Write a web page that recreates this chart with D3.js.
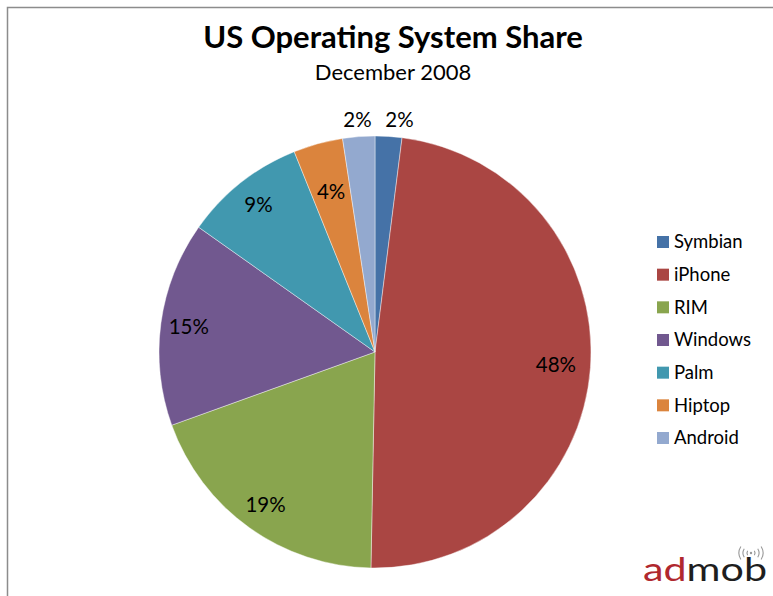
<!DOCTYPE html>
<html><head><meta charset="utf-8">
<script src="https://cdn.jsdelivr.net/npm/d3@7"></script>
<style>
body{margin:0;background:#fff;}
text{font-family:Lato,"Open Sans",sans-serif;}
</style></head>
<body><svg id="c" width="773" height="596"></svg>
<script>
const categories = ["Symbian","iPhone","RIM","Windows","Palm","Hiptop","Android"];
const shares = [2.0, 48.3, 19.2, 15.3, 9.1, 3.7, 2.4];
const colors = ["#4572A7","#AA4643","#89A54E","#71588F","#4198AF","#DB843D","#93A9CF"];
const title = "US Operating System Share";
const subtitle = "December 2008";

const svg = d3.select("#c");
// frame
svg.append("path").attr("d","M7.5,600 L7.5,7.5 L780,7.5").attr("fill","none").attr("stroke","#8c8c8c").attr("stroke-width",1.5);

svg.append("text").attr("x",393).attr("y",48).attr("text-anchor","middle")
  .attr("font-size",31).attr("font-weight","bold").attr("fill","#000").text(title);
svg.append("text").attr("x",393).attr("y",80).attr("text-anchor","middle")
  .attr("font-size",22).attr("fill","#000").text(subtitle);

const cx = 375, cy = 352, r = 216;
const data = categories.map((c,i)=>({name:c, value:shares[i], color:colors[i]}));
const pie = d3.pie().value(d=>d.value).sort(null);
const arcs = pie(data);
const arc = d3.arc().innerRadius(0).outerRadius(r);
const g = svg.append("g").attr("transform",`translate(${cx},${cy})`);
g.selectAll("path").data(arcs).join("path")
  .attr("d",arc).attr("fill",d=>d.data.color)
  .attr("stroke","#fff").attr("stroke-width",0.6).attr("stroke-opacity",0.7);

// labels
const total = d3.sum(shares);
const labels = arcs.map(a=>{
  const pct = a.data.value/total*100;
  const mid = (a.startAngle+a.endAngle)/2;
  let rad, outside=false;
  if (pct < 3) { rad = r+17; outside=true; }
  else if (pct < 5) rad = r*0.77;
  else if (pct > 40) rad = r*0.84;
  else rad = r*0.87;
  return {text: Math.round(pct)+"%", x: Math.sin(mid)*rad, y: -Math.cos(mid)*rad, outside};
});
// nudge outside labels apart
const outs = labels.filter(l=>l.outside).sort((a,b)=>a.x-b.x);
const lw = 32, gap = 10;
for (let i=1;i<outs.length;i++){
  const need = outs[i-1].x + lw + gap;
  if (outs[i].x < need) outs[i].x = need;
}
g.selectAll("text.lbl").data(labels).join("text").attr("class","lbl")
  .attr("x",d=>d.x).attr("y",d=>d.y).attr("dy","0.35em")
  .attr("text-anchor","middle").attr("font-size",20.5).attr("fill","#000")
  .text(d=>d.text);

// legend
const legend = svg.append("g").attr("transform","translate(657,242)");
const ly = d3.scalePoint().domain(categories).range([0,196]);
const li = legend.selectAll("g").data(data).join("g").attr("transform",d=>`translate(0,${ly(d.name)})`);
li.append("rect").attr("x",0).attr("y",-6).attr("width",12).attr("height",12).attr("fill",d=>d.color);
li.append("text").attr("x",17).attr("y",0).attr("dy","0.35em").attr("font-size",18.5).attr("fill","#000").text(d=>d.name);

// admob logo
const logo = svg.append("g").attr("transform","translate(643,581)");
const lt = logo.append("text").attr("x",0).attr("y",0).attr("font-size",33).attr("font-family","'DejaVu Sans',sans-serif")
  .attr("textLength",124).attr("lengthAdjust","spacingAndGlyphs");
lt.append("tspan").attr("fill","#b0282e").text("ad");
lt.append("tspan").attr("fill","#1e1e1e").text("mob");
const wave = logo.append("g").attr("transform","translate(108,-28)").attr("fill","none").attr("stroke","#999").attr("stroke-width",1.1);
[4,8,12].forEach(rr=>{
  wave.append("path").attr("d",d3.arc()({innerRadius:rr,outerRadius:rr,startAngle:-Math.PI*0.68,endAngle:-Math.PI*0.32}));
  wave.append("path").attr("d",d3.arc()({innerRadius:rr,outerRadius:rr,startAngle:Math.PI*0.32,endAngle:Math.PI*0.68}));
});
wave.append("circle").attr("r",1.2).attr("fill","#999").attr("stroke","none");
</script></body></html>
